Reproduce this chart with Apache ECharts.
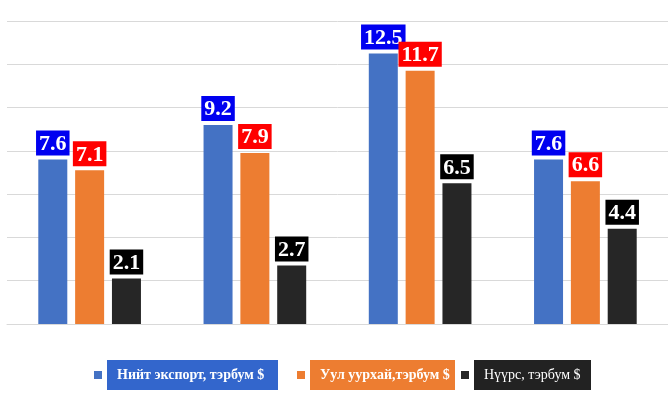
<!DOCTYPE html>
<html>
<head>
<meta charset="utf-8">
<script src="https://cdn.jsdelivr.net/npm/echarts@6/dist/echarts.min.js"></script>
<style>
html, body { margin: 0; padding: 0; background: #fff; }
#main { width: 668px; height: 398px; }
</style>
</head>
<body>
<div id="main"></div>
<script>
// categories (no labels shown in the picture)
const categories = ['1', '2', '3', '4'];
const seriesNames = ['Нийт экспорт, тэрбум $', 'Уул уурхай,тэрбум $', 'Нүүрс, тэрбум $'];
const exportTotal = [7.6, 9.2, 12.5, 7.6];
const mining = [7.1, 7.9, 11.7, 6.6];
const coal = [2.1, 2.7, 6.5, 4.4];

const barColors = ['#4472C4', '#ED7D31', '#262626'];
const labelBoxes = ['#0000F0', '#FF0000', '#000000'];
const legendBoxes = ['#3366CC', '#ED7D31', '#222222'];

const serif = 'Liberation Serif, DejaVu Serif, serif';

const mkSeries = (name, data, i) => ({
    name: name, type: 'bar', data: data,
    barWidth: 29, barGap: '27%',
    itemStyle: { color: barColors[i] },
    label: {
        show: true, position: 'top', distance: 4,
        color: '#fff', fontFamily: serif, fontWeight: 'bold', fontSize: 22,
        backgroundColor: labelBoxes[i], padding: [2, 3, 0, 3],
        lineHeight: 23
    }
});

// one legend per series so each boxed item sits where it does in the picture
const legendLeft = [89, 292, 456];
const legendWidth = [155, 129, 101];
const mkLegend = (i) => ({
    left: legendLeft[i], top: 355, itemWidth: 8, itemHeight: 8, itemGap: 0,
    icon: 'rect',
    data: [{
        name: seriesNames[i],
        textStyle: {
            color: '#fff', fontFamily: serif, fontSize: 14, lineHeight: 16,
            fontWeight: i < 2 ? 'bold' : 'normal',
            backgroundColor: legendBoxes[i], padding: [8, 6, 6, 10],
            width: legendWidth[i]
        }
    }]
});

const option = {
    animation: false,
    textStyle: { fontFamily: serif },
    grid: { left: 7, right: 0, top: 21, bottom: 74 },
    legend: [mkLegend(0), mkLegend(1), mkLegend(2)],
    xAxis: {
        type: 'category', data: categories,
        axisLabel: { show: false },
        axisTick: { show: false },
        axisLine: { lineStyle: { color: '#d9d9d9' } }
    },
    yAxis: {
        type: 'value', min: 0, max: 14, interval: 2,
        axisLabel: { show: false },
        axisLine: { show: false },
        splitLine: { lineStyle: { color: '#d9d9d9' } }
    },
    series: [
        mkSeries(seriesNames[0], exportTotal, 0),
        mkSeries(seriesNames[1], mining, 1),
        mkSeries(seriesNames[2], coal, 2)
    ]
};

echarts.init(document.getElementById('main')).setOption(option);
</script>
</body>
</html>
